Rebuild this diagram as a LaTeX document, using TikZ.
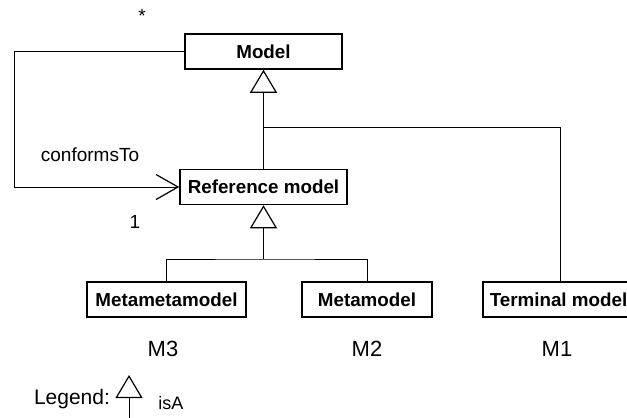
\documentclass[tikz,border=0pt]{standalone}
\usepackage{fontspec}
\setmainfont{Liberation Sans}
\usetikzlibrary{arrows.meta,positioning}
\tikzset{
    umlbox/.style={draw, line width=0.75pt, inner sep=0pt, minimum height=17.5pt,
        font=\bfseries\fontsize{9.4}{11}\selectfont},
    isa/.style={-{Triangle[open,length=11.5pt,width=13.5pt,line width=0.6pt]}},
    conf/.style={-{Straight Barb[length=11pt,width=12.5pt,line width=0.6pt]}},
    level/.style={font=\fontsize{11}{13}\selectfont},
    lbl/.style={font=\fontsize{9.5}{11}\selectfont}
}

\begin{document}
\begin{tikzpicture}[x=0.5pt,y=-0.5pt,line width=0.5pt]
    \useasboundingbox (0,0) rectangle (627,418);
    \clip (0,0) rectangle (627,418);
    % classes
    \node[umlbox, minimum width=78.5pt] (model) at (263.5,51.5) {Model};
    \node[umlbox, minimum width=83.5pt] (ref) at (263.5,187) {Reference model};
    \node[umlbox, minimum width=79.5pt] (mmm) at (166.5,299.5) {Metametamodel};
    \node[umlbox, minimum width=65pt] (mm) at (367,299.5) {Metamodel};
    \node[umlbox, anchor=west, align=left] (term) at (482,299.5) {\hspace*{3.5pt}Terminal model\hspace*{4pt}};
    \coordinate (j1) at (263.5,127);
    \coordinate (j2) at (263.5,259);
    % isA
    \draw[isa] (ref.north) -- (model.south);
    \draw (term.north -| 560,0) |- (j1);
    \draw[isa] (j2) -- (ref.south);
    \draw (mmm.north) |- (j2) -| (mm.north);
    % conformsTo
    \draw[conf] (model.west) -- ++(-170,0) |- (ref.west);
    \node[lbl] (many) at (142,16) {*};
    \node[lbl] (one) at (135,222) {1};
    \node[lbl] (conformsto) at (90,155) {conformsTo};
    % levels
    \node[level] (m3) at (163,349) {M3};
    \node[level] (m2) at (367,349) {M2};
    \node[level] (m1) at (557,349) {M1};
    % legend
    \node[font=\fontsize{10.5}{12}\selectfont] (legend) at (72,399) {Legend:};
    \coordinate (legtail) at (129,420);
    \coordinate (leghead) at (129,375);
    \draw[isa] (legtail) -- (leghead);
    \node[font=\fontsize{9}{11}\selectfont] (isalbl) at (171,403) {isA};
\end{tikzpicture}
\end{document}
